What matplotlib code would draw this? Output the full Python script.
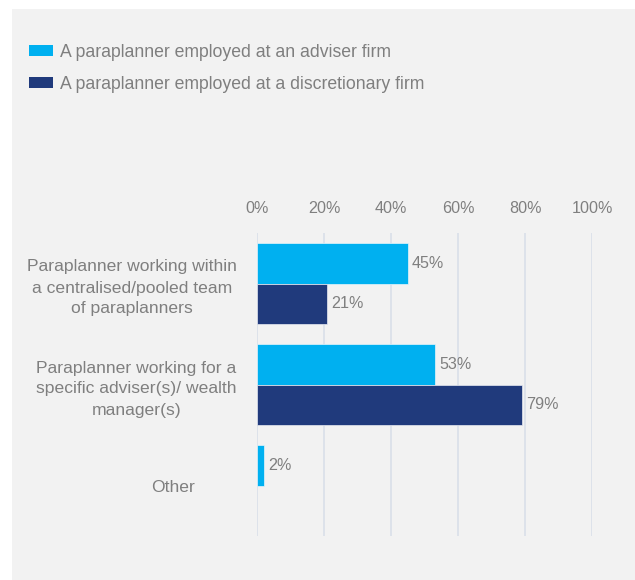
import numpy as np
import matplotlib.pyplot as plt
from matplotlib.patches import Rectangle, Patch
from matplotlib.transforms import ScaledTranslation

plt.rcParams['font.family'] = ['Liberation Sans', 'DejaVu Sans']

categories = ["Paraplanner working within\na centralised/pooled team\nof paraplanners",
              "Paraplanner working for a\nspecific adviser(s)/ wealth\nmanager(s)",
              "Other"]
adviser = [45, 53, 2]
discretionary = [21, 79, None]
series_names = ["A paraplanner employed at an adviser firm",
                "A paraplanner employed at a discretionary firm"]
ticks = [0, 20, 40, 60, 80, 100]

c_adv = '#00B0F0'
c_disc = '#203A7C'
txt = '#7F7F7F'
bg = '#F2F2F2'

W, H = 635, 580
fig = plt.figure(figsize=(W / 100, H / 100), dpi=100)
fig.patch.set_facecolor('white')
fig.patches.append(Rectangle((12 / W, 0), 1, 1 - 9 / H, transform=fig.transFigure,
                             facecolor=bg, edgecolor='none', zorder=-10))

ax = fig.add_axes([257 / W, 1 - 536 / H, (592 - 257) / W, (536 - 233) / H])
ax.patch.set_alpha(0)

y = np.arange(len(categories))
h = 0.4
for i, v in enumerate(adviser):
    if v is None:
        continue
    ax.barh(y[i] - h / 2, v, height=h, color=c_adv, edgecolor='#e8f4fa', linewidth=0.5, zorder=3)
    ax.text(v + 1.3, y[i] - h / 2, f"{v}%", va='center', ha='left', fontsize=11.6, color=txt)
for i, v in enumerate(discretionary):
    if v is None:
        continue
    ax.barh(y[i] + h / 2, v, height=h, color=c_disc, edgecolor='#e8eaf2', linewidth=0.5, zorder=3)
    ax.text(v + 1.3, y[i] + h / 2, f"{v}%", va='center', ha='left', fontsize=11.6, color=txt)

ax.set_xlim(0, 100)
ax.set_ylim(2.5, -0.5)
ax.set_xticks(ticks)
ax.set_xticklabels([f"{t}%" for t in ticks])
ax.set_yticks(y)
ax.set_yticklabels(categories, ha='right', multialignment='center', linespacing=1.5)
ax.tick_params(axis='y', pad=14.5, length=0, labelsize=12.6, labelcolor=txt)
ax.tick_params(axis='x', top=True, labeltop=True, bottom=False, labelbottom=False,
               length=0, pad=12, labelsize=11.6, labelcolor=txt)
# the "Other" label sits further left in the original
lab = ax.get_yticklabels()[2]
lab.set_transform(lab.get_transform() + ScaledTranslation(-0.42, 0, fig.dpi_scale_trans))
for s in ax.spines.values():
    s.set_visible(False)
ax.grid(axis='x', color='#DDE2EA', linewidth=1.4, zorder=0)
ax.set_axisbelow(True)

handles = [Patch(facecolor=c_adv), Patch(facecolor=c_disc)]
fig.legend(handles, series_names, loc='upper left', bbox_to_anchor=(29 / W, 1 - 44 / H),
           frameon=False, fontsize=12.7, labelcolor=txt, handlelength=1.36, handleheight=0.57,
           handletextpad=0.4, labelspacing=0.85, borderaxespad=0, borderpad=0)

fig.savefig('out.png', dpi=100, facecolor='white')
